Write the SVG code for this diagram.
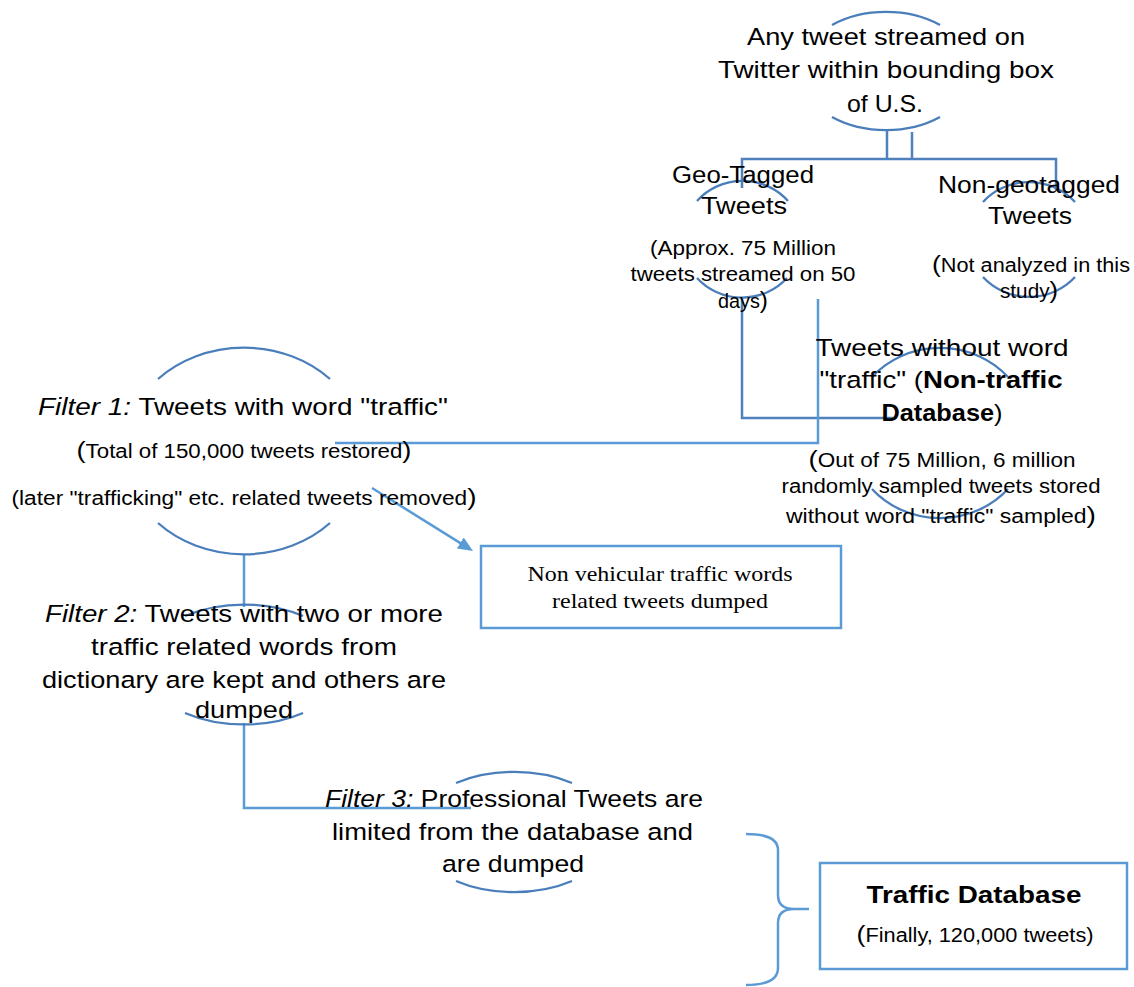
<svg xmlns="http://www.w3.org/2000/svg" width="1134" height="987" viewBox="0 0 1134 987">
<defs>
<style>
.t{font-family:"Liberation Sans",Arial,sans-serif;fill:#000;text-anchor:middle}
.b{font-size:24.5px}
.g{font-size:23.5px}
.s{font-size:19.5px}
.p{font-size:24px}
.tm{font-family:"Liberation Serif","Times New Roman",serif;font-size:21.5px;fill:#000;text-anchor:middle}
.arc{fill:none;stroke:#4A7EBB;stroke-width:2.3}
.ln{fill:none;stroke:#5B9BD5;stroke-width:2.5}
.ln2{fill:none;stroke:#4F81BD;stroke-width:2.5}
.box{fill:#fff;stroke:#5B9BD5;stroke-width:2.5}
</style>
<marker id="ah" viewBox="0 0 15 13" refX="3" refY="6.5" markerWidth="15" markerHeight="13" markerUnits="userSpaceOnUse" orient="auto">
<path d="M0,0 L15,6.5 L0,13 z" fill="#5B9BD5"/>
</marker>
</defs>
<rect width="1134" height="987" fill="#fff"/>

<g id="connectors">
<path class="ln2" d="M887,130 V159 M912,132 V159 M742,188 V159 H1056 V190"/>
<path class="ln2" d="M742,297 V418 H893"/>
<path class="ln" d="M818,299 V443 H335"/>
<path class="ln" d="M372,488 L462.8,544.6" marker-end="url(#ah)"/>
<path class="ln" d="M244,555 V607"/>
<path class="ln" d="M244,723 V808 H471"/>
<path class="ln" d="M746,834 Q778,834 778,850 L778,895 Q778,909 794,909 L809,909 M794,909 Q778,909 778,923 L778,968 Q778,985 746,985"/>
</g>

<g id="node-top">
<path class="arc" d="M832,25 A86,59 0 0 1 940,25 M832,117 A86,59 0 0 0 940,117"/>
<text class="t b" x="886" y="45" textLength="278" lengthAdjust="spacingAndGlyphs">Any tweet streamed on</text>
<text class="t b" x="886" y="78" textLength="336" lengthAdjust="spacingAndGlyphs">Twitter within bounding box</text>
<text class="t b" x="885" y="112" textLength="76" lengthAdjust="spacingAndGlyphs">of U.S.</text>
</g>

<g id="node-geotagged">
<path class="arc" d="M697,201 A60,58 0 0 1 788,201 M697,278 A60,58 0 0 0 787,278"/>
<text class="t g" x="743" y="183" textLength="142" lengthAdjust="spacingAndGlyphs">Geo-Tagged</text>
<text class="t g" x="744" y="214" textLength="86" lengthAdjust="spacingAndGlyphs">Tweets</text>
<text class="t s" x="743" y="255" textLength="186" lengthAdjust="spacingAndGlyphs">(Approx. 75 Million</text>
<text class="t s" x="743" y="281" textLength="225" lengthAdjust="spacingAndGlyphs">tweets streamed on 50</text>
<text class="t s" x="743" y="308" textLength="50" lengthAdjust="spacingAndGlyphs">days<tspan class="p">)</tspan></text>
</g>

<g id="node-nongeotagged">
<path class="arc" d="M983,202 A61,58 0 0 1 1075,202 M983,277 A61,58 0 0 0 1075,277"/>
<text class="t g" x="1029" y="193" textLength="182" lengthAdjust="spacingAndGlyphs">Non-geotagged</text>
<text class="t g" x="1030" y="224" textLength="84" lengthAdjust="spacingAndGlyphs">Tweets</text>
<text class="t s" x="1031" y="272" textLength="198" lengthAdjust="spacingAndGlyphs"><tspan class="p">(</tspan>Not analyzed in this</text>
<text class="t s" x="1029" y="298" textLength="58" lengthAdjust="spacingAndGlyphs">study<tspan class="p">)</tspan></text>
</g>

<g id="node-nontraffic">
<path class="arc" d="M872,377 A90,84.5 0 0 1 1008,377 M872,489 A90,84.5 0 0 0 1008,489"/>
<text class="t b" x="942" y="356" textLength="253" lengthAdjust="spacingAndGlyphs">Tweets without word</text>
<text class="t b" x="941" y="388" textLength="243" lengthAdjust="spacingAndGlyphs">"traffic" (<tspan font-weight="bold">Non-traffic</tspan></text>
<text class="t b" x="942" y="421" textLength="121" lengthAdjust="spacingAndGlyphs"><tspan font-weight="bold">Database</tspan>)</text>
<text class="t s" x="942" y="467" textLength="267" lengthAdjust="spacingAndGlyphs"><tspan class="p">(</tspan>Out of 75 Million, 6 million</text>
<text class="t s" x="941" y="493" textLength="319" lengthAdjust="spacingAndGlyphs">randomly sampled tweets stored</text>
<text class="t s" x="941" y="523" textLength="310" lengthAdjust="spacingAndGlyphs">without word "traffic" sampled<tspan class="p">)</tspan></text>
</g>

<g id="node-filter1">
<path class="arc" d="M158,379 A120,103.5 0 0 1 330,379 M158,523 A120,103.5 0 0 0 330,523"/>
<text class="t b" x="243" y="415" textLength="410" lengthAdjust="spacingAndGlyphs"><tspan font-style="italic">Filter 1:</tspan> Tweets with word "traffic"</text>
<text class="t s" x="244" y="458" textLength="335" lengthAdjust="spacingAndGlyphs"><tspan class="p">(</tspan>Total of 150,000 tweets restored<tspan class="p">)</tspan></text>
<text class="t s" x="244" y="505" textLength="465" lengthAdjust="spacingAndGlyphs">(later "trafficking" etc. related tweets removed<tspan class="p">)</tspan></text>
</g>

<g id="node-nonvehicular">
<rect class="box" x="481" y="546" width="360" height="82"/>
<text class="tm" x="660" y="581" textLength="265" lengthAdjust="spacingAndGlyphs">Non vehicular traffic words</text>
<text class="tm" x="660" y="608" textLength="216" lengthAdjust="spacingAndGlyphs">related tweets dumped</text>
</g>

<g id="node-filter2">
<path class="arc" d="M185,616 A100,59.5 0 0 1 303,616 M185,713 A100,59.5 0 0 0 303,713"/>
<text class="t b" x="244" y="622" textLength="398" lengthAdjust="spacingAndGlyphs"><tspan font-style="italic">Filter 2:</tspan> Tweets with two or more</text>
<text class="t b" x="244" y="655" textLength="306" lengthAdjust="spacingAndGlyphs">traffic related words from</text>
<text class="t b" x="244" y="688" textLength="404" lengthAdjust="spacingAndGlyphs">dictionary are kept and others are</text>
<text class="t b" x="244" y="718" textLength="98" lengthAdjust="spacingAndGlyphs">dumped</text>
</g>

<g id="node-filter3">
<path class="arc" d="M456,783 A100,60 0 0 1 572,783 M456,881 A100,60 0 0 0 572,881"/>
<text class="t b" x="514" y="807" textLength="378" lengthAdjust="spacingAndGlyphs"><tspan font-style="italic">Filter 3:</tspan> Professional Tweets are</text>
<text class="t b" x="512.5" y="840" textLength="361" lengthAdjust="spacingAndGlyphs">limited from the database and</text>
<text class="t b" x="513" y="872" textLength="142" lengthAdjust="spacingAndGlyphs">are dumped</text>
</g>

<g id="node-trafficdb">
<rect class="box" x="820" y="863" width="307" height="106"/>
<text class="t b" x="974" y="903" textLength="215" lengthAdjust="spacingAndGlyphs" font-weight="bold">Traffic Database</text>
<text class="t s" x="975" y="942" textLength="237" lengthAdjust="spacingAndGlyphs"><tspan class="p">(</tspan>Finally, 120,000 tweets)</text>
</g>
</svg>
